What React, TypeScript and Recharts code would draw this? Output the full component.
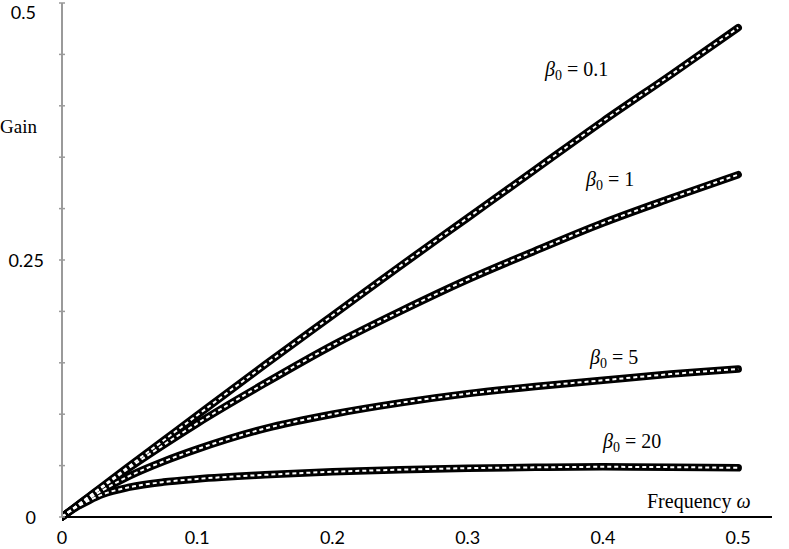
import { LineChart, Line, XAxis, YAxis } from 'recharts';

// frequency values (omega)
const freq = [0, 0.01, 0.02, 0.03, 0.05, 0.075, 0.1, 0.15, 0.2, 0.25, 0.3, 0.35, 0.4, 0.45, 0.5];

// gain, one list per beta_0
const gainB01 = [0, 0.01, 0.02, 0.03, 0.0498, 0.0744, 0.099, 0.148, 0.196, 0.244, 0.291, 0.338, 0.385, 0.43, 0.476];
const gainB1 = [0, 0.0099, 0.0196, 0.0291, 0.048, 0.07, 0.091, 0.13, 0.167, 0.2, 0.231, 0.259, 0.286, 0.31, 0.333];
const gainB5 = [0, 0.0095, 0.018, 0.026, 0.04, 0.054, 0.066, 0.086, 0.1, 0.111, 0.12, 0.127, 0.133, 0.139, 0.144];
const gainB20 = [0, 0.009, 0.016, 0.022, 0.029, 0.034, 0.037, 0.041, 0.044, 0.046, 0.0475, 0.0483, 0.0488, 0.0485, 0.0478];

const xTicks = [0, 0.1, 0.2, 0.3, 0.4, 0.5];
const yTicks = [0, 0.05, 0.1, 0.15, 0.2, 0.25, 0.3, 0.35, 0.4, 0.45, 0.5];
const yLabeled = [0, 0.25, 0.5];

const data = freq.map((w, i) => ({
    w,
    b01: gainB01[i],
    b1: gainB1[i],
    b5: gainB5[i],
    b20: gainB20[i],
}));

const series = ['b01', 'b1', 'b5', 'b20'];

const tickFont = 'Lato, "Liberation Sans", sans-serif';
const serif = '"Liberation Serif", "Times New Roman", serif';

const YTick = (props: any) => {
    const { y, payload } = props;
    const v = payload.value;
    const show = yLabeled.some(l => Math.abs(l - v) < 1e-9);
    const label = v === 0 ? '0' : v === 0.5 ? '0.5' : '0.25';
    const dy = Math.abs(v - 0.5) < 1e-9 ? 9 : 0;
    return (
        <g>
            <line x1={59} x2={65} y1={y} y2={y} stroke="#9a9a9a" strokeWidth={1.5} />
            {show && (
                <text x={label === '0.25' ? 44 : 36} y={y + dy} textAnchor="end" dominantBaseline="central"
                    fontFamily={tickFont} fontSize={18} fill="#000">
                    {label}
                </text>
            )}
        </g>
    );
};

const Beta = ({ x, y, val }: { x: number, y: number, val: string }) => (
    <text x={x} y={y} fontFamily={serif} fontSize={20} fill="#000">
        <tspan fontStyle="italic">β</tspan>
        <tspan fontSize={14} dy={4}>0</tspan>
        <tspan dy={-4}> = {val}</tspan>
    </text>
);

export default function App() {
    return (
        <div style={{ position: 'absolute', left: 0, top: 0, width: 789, height: 549, background: '#fff' }}>
            <LineChart width={789} height={549} data={data} margin={{ top: 3, right: 17, bottom: 0, left: 0 }}>
                <XAxis
                    dataKey="w"
                    type="number"
                    domain={[0, 0.525]}
                    ticks={xTicks}
                    tickFormatter={(v: number) => (v === 0 ? '0' : String(v))}
                    axisLine={{ stroke: '#000', strokeWidth: 2 }}
                    tickLine={false}
                    tickSize={0}
                    tickMargin={14}
                    height={32}
                    tick={{ fontFamily: tickFont, fontSize: 18, fill: '#000' }}
                    allowDataOverflow
                />
                <YAxis
                    type="number"
                    domain={[0, 0.5]}
                    ticks={yTicks}
                    width={62}
                    axisLine={{ stroke: '#9a9a9a', strokeWidth: 2 }}
                    tickLine={false}
                    tick={<YTick />}
                    interval={0}
                />
                {series.map(k => (
                    <Line key={k + '-thick'} dataKey={k} type="monotone" stroke="#000" strokeWidth={7.5}
                        strokeLinecap="round" dot={false} activeDot={false} isAnimationActive={false} />
                ))}
                {series.map(k => (
                    <Line key={k + '-dash'} dataKey={k} type="monotone" stroke="#fff" strokeWidth={2}
                        strokeDasharray="4 3" dot={false} activeDot={false} isAnimationActive={false} />
                ))}
            </LineChart>
            <svg width={789} height={549} style={{ position: 'absolute', left: 0, top: 0, pointerEvents: 'none' }}>
                <text x={0} y={133} fontFamily={serif} fontSize={19} fill="#000">Gain</text>
                <text x={647} y={508} fontFamily={serif} fontSize={20} fill="#000">
                    Frequency <tspan fontStyle="italic">ω</tspan>
                </text>
                <Beta x={545} y={76} val="0.1" />
                <Beta x={586} y={186} val="1" />
                <Beta x={590} y={364} val="5" />
                <Beta x={603} y={448} val="20" />
            </svg>
        </div>
    );
}
